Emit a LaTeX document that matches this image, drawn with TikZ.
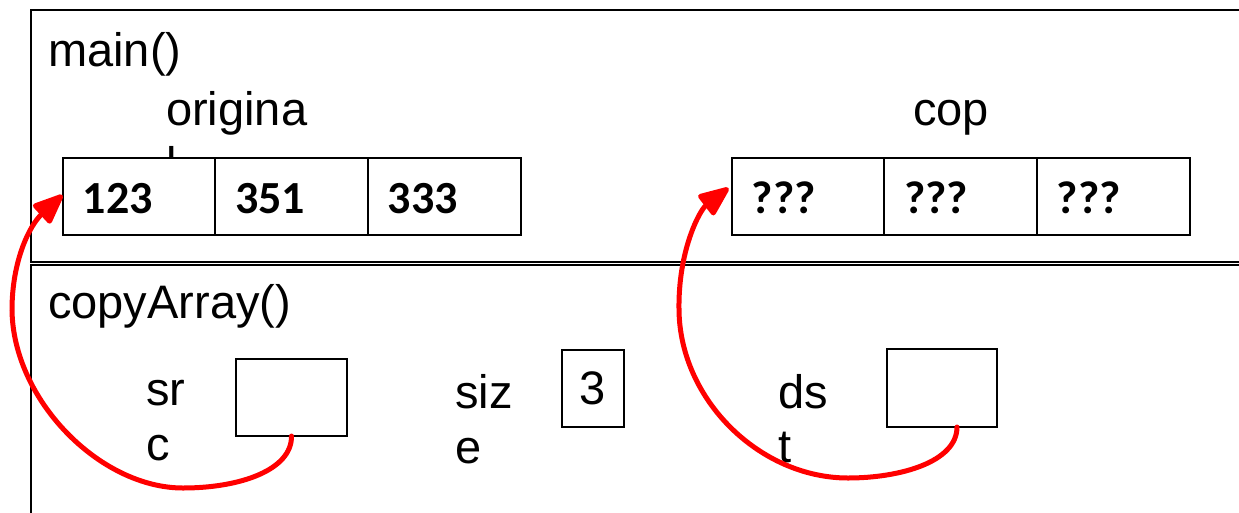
\documentclass[tikz,border=0pt]{standalone}
\usepackage{fontspec}
\setmainfont{Liberation Sans}
\newfontfamily\cellfont{Carlito}
\usetikzlibrary{arrows.meta}
\begin{document}
\begin{tikzpicture}[x=1pt,y=-1pt,
  lbl/.style={inner sep=0pt, anchor=base west, font=\fontsize{47}{55}\selectfont},
  cell/.style={draw=black, line width=2pt, fill=white, minimum width=153pt,
               minimum height=77pt, inner sep=0pt, outer sep=0pt},
  val/.style={inner sep=0pt, anchor=base west,
              font=\cellfont\bfseries\fontsize{46}{55}\selectfont},
  slot/.style={draw=black, line width=1.6pt, inner sep=0pt, outer sep=0pt,
               font=\fontsize{47}{55}\selectfont},
  frame/.style={draw=black, line width=2pt},
  ptr/.style={draw=red, line width=5pt, line cap=round,
              -{Triangle[length=34pt,width=27pt,round=false]}}]
\useasboundingbox (0,0) rectangle (1239,512);
\begin{scope}
\clip (0,0) rectangle (1239,512);
% stack frames (they run past the right and bottom edges)
\path[frame] (31,10) rectangle (1300,262);
\path[frame] (31,265) rectangle (1300,600);

% frame titles
\node[lbl] (mainT) at (48,66) {main()};
\node[lbl] (copyT) at (48,318) {copyArray()};

% array names: the second line disappears behind the cells
\node[lbl] (origA) at (166,125) {origina};
\node[lbl] (origB) at (166,180) {l};
\node[lbl] (copyA) at (913,125) {cop};
\node[lbl] (copyB) at (913,182) {y};

% array original
\node[cell] (a1) at (139,196.5) {};
\node[cell] (a2) at (291.5,196.5) {};
\node[cell] (a3) at (444,196.5) {};
\node[val] (v1) at ([shift={(20,16.5)}]a1.west) {123};
\node[val] (v2) at ([shift={(20,16.5)}]a2.west) {351};
\node[val] (v3) at ([shift={(20,16.5)}]a3.west) {333};

% array copy
\node[cell] (b1) at (808,196.5) {};
\node[cell] (b2) at (960.5,196.5) {};
\node[cell] (b3) at (1113,196.5) {};
\node[val] (w1) at ([shift={(20,16.5)}]b1.west) {???};
\node[val] (w2) at ([shift={(20,16.5)}]b2.west) {???};
\node[val] (w3) at ([shift={(20,16.5)}]b3.west) {???};

% parameters of copyArray()
\node[lbl] (srcA) at (146,405) {sr};
\node[lbl] (srcB) at (146,460) {c};
\node[slot, minimum width=111pt, minimum height=77pt] (src) at (291.5,397.5) {};

\node[lbl] (sizeA) at (455,408) {siz};
\node[lbl] (sizeB) at (455,463) {e};
\node[slot, minimum width=62pt, minimum height=77pt] (size) at (593,388.5) {3};

\node[lbl] (dstA) at (778,408) {ds};
\node[lbl] (dstB) at (778,462) {t};
\node[slot, minimum width=110pt, minimum height=78pt] (dst) at (942,388) {};

% pointers
\coordinate (t1) at ([yshift=1.5]a1.west);
\coordinate (t2) at ([shift={(-3,-8.5)}]b1.west);
\coordinate (s2) at ([xshift=15]dst.south);
\path[ptr] (src.south) .. controls (292,470) and (240,488) .. (183,488)
  .. controls (100,488) and (13,400) .. (12,310)
  .. controls (12,260) and (30,225) .. (t1);
\path[ptr] (s2) .. controls (957,462) and (900,478) .. (848,478)
  .. controls (760,478) and (680,400) .. (679,310)
  .. controls (678,250) and (700,210) .. (t2);
\end{scope}
\end{tikzpicture}
\end{document}
